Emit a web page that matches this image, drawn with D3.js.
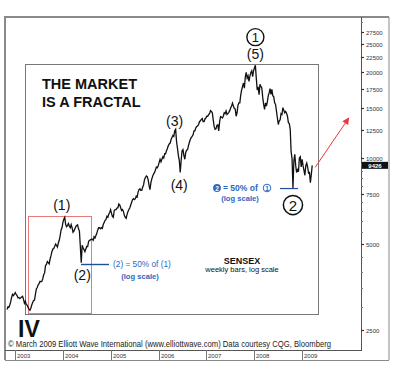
<!DOCTYPE html>
<html><head><meta charset="utf-8">
<script src="https://cdn.jsdelivr.net/npm/d3@7"></script>
<style>body{margin:0;background:#fff}svg{display:block;font-family:"Liberation Sans",Arial,sans-serif}</style>
</head><body><svg id="c" width="400" height="376"></svg>
<script>
// ---- DATA (weekly Sensex) ----
const close2002 = [2950,3010,3000,3060,3135,3250,3330,3300,3340];
const close2003 = [3380,3330,3300,3240,3250, 3220,3240,3260,3280, 3200,3100,3150,3080, 3050,3000,2960,2930,
  2980,3060,3120,3170,3180, 3330,3480,3520,3600, 3630,3700,3690,3700, 3780,3900,3960,4200,4240,
  4340,4300,4260,4430, 4550,4700,4800,4820,4900, 5000,4950,4880,5040, 5150,5350,5600,5700];
const close2004 = [5950,6100,6200,5850,5750, 5800,5900,5780,5700, 5850,5700,5500,5550, 5650,5750,5800,5830,5650,
  5550,4900,4300,4950, 4850,4780,4700,4800, 4900,4900,5100,5150,5170, 5200,5200,5150,5300,
  5250,5350,5450,5600, 5700,5700,5650,5700,5670, 5850,5950,6050,6100, 6250,6200,6350,6450,6600];
const close2005 = [6400,6250,6200,6550, 6600,6600,6680,6700, 6900,6850,6700,6550, 6600,6500,6300,6200,6150,
  6350,6500,6600,6700, 6850,7000,7150,7200, 7150,7200,7350,7300,7600, 7750,7800,7700,7700,
  7900,8050,8400,8550,8650, 8600,8400,8000,7750, 8200,8450,8650,8800, 8900,9100,9300,9250,9400];
const close2006 = [9650,9900,9700,9900, 10100,10000,10350,10350, 10600,10800,11050,11200,11280, 11600,11800,12000,11900,
  12450,12600,11400,10800, 10200,9800,8900,9800,10600, 10700,10200,9900,10450, 10650,10700,11050,11350,
  11600,11800,11900,12050,12450, 12450,12750,12900,12950, 13100,13400,13500,13650, 13750,13400,13400,13700,13800];
const close2007 = [14000,14000,14200,14300, 14650,14550,14400,13600, 12900,12600,12650,13000,13070, 12450,13400,13950,13900,
  13800,14000,14400,14300, 14600,14200,14300,14450,14650, 14950,15200,15550,15200, 14900,14850,14000,14400,15300,
  15600,15600,16600,17300, 17800,18300,17550,19250, 19950,19050,19400,18550,19350, 19900,20200,19250,20200];
const close2008 = [20700,21100,19000,17300, 17750,16650,18100,17800,17600, 16300,15400,14800,15600, 15200,15700,16500,16900,
  17500,16700,17400,16500,16400, 15600,15400,14600,13800, 13100,13500,13600,14300, 14200,15000,14700,14400,14550,
  14350,14000,13300,13200, 12600,10500,9950,7850,9800, 10300,9400,8900,9100, 8950,10000,10100,9300];
const close2009 = [9900,9400,9050,8700,9400, 9600,9300,8850,8900, 8200,8750,9426];
const seriesStarts = ["2002-11-01","2003-01-03","2004-01-02","2005-01-07","2006-01-06","2007-01-05","2008-01-04","2009-01-02"];
const seriesValues = [close2002,close2003,close2004,close2005,close2006,close2007,close2008,close2009];

const yearLabels = ["2003","2004","2005","2006","2007","2008","2009"];
const yLabelTicks = [2500,5000,7500,10000,12500,15000,17500,20000,22500,25000,27500];
const yMinorTicks = [3000,3500,4000,4500,5500,6000,6500,7000,8000,8500,9000,9500,30000];
const lastPrice = "9426";
const waveLabels = [
  {t:"(1)", d:"2004-01-16", v:6200, dx:-3, dy:-7},
  {t:"(2)", d:"2004-05-21", v:4300, dx:1, dy:17},
  {t:"(3)", d:"2006-05-12", v:12600, dx:-1, dy:-3},
  {t:"(4)", d:"2006-06-16", v:8900, dx:-1, dy:17.5},
  {t:"(5)", d:"2008-01-11", v:20800, dx:0, dy:-8}
];

// ---- SETUP ----
const parse = d3.timeParse("%Y-%m-%d");
const data = [];
seriesStarts.forEach((s,k)=>{
  const d0 = parse(s);
  seriesValues[k].forEach((v,i)=>data.push({date:d3.timeDay.offset(d0,7*i), v}));
});
const svg = d3.select("#c");
const x = d3.scaleTime().domain([parse("2003-01-01"), parse("2009-01-01")]).range([15, 302]);
const y = d3.scaleLog().domain([2500, 10000]).range([330, 158]);
const L = 5, T = 17, PR = 361, PB = 350, OR = 389, OB = 360;

svg.append("rect").attr("width",400).attr("height",376).attr("fill","#fff");
// frames
svg.append("line").attr("x1",L).attr("x2",L).attr("y1",T-1).attr("y2",OB).attr("stroke","#8a8a8a").attr("stroke-width",2);
svg.append("line").attr("x1",L).attr("x2",OR).attr("y1",T).attr("y2",T).attr("stroke","#8a8a8a").attr("stroke-width",2);
svg.append("line").attr("x1",OR).attr("x2",OR).attr("y1",T).attr("y2",OB).attr("stroke","#8a8a8a").attr("stroke-width",1);
svg.append("line").attr("x1",L).attr("x2",OR).attr("y1",OB+0.5).attr("y2",OB+0.5).attr("stroke","#8a8a8a").attr("stroke-width",1);
svg.append("line").attr("x1",PR+0.5).attr("x2",PR+0.5).attr("y1",T).attr("y2",PB).attr("stroke","#555").attr("stroke-width",1);
svg.append("line").attr("x1",L).attr("x2",PR+1).attr("y1",PB+0.5).attr("y2",PB+0.5).attr("stroke","#555").attr("stroke-width",1);

// inner box
svg.append("rect").attr("x",25.5).attr("y",64.5).attr("width",293).attr("height",250)
  .attr("fill","#fff").attr("stroke","#777").attr("stroke-width",1);
// red box
svg.append("rect").attr("x",28.5).attr("y",216.5).attr("width",63).attr("height",97)
  .attr("fill","none").attr("stroke","#e87a7a").attr("stroke-width",1);

// x axis (years)
const yrs = yearLabels.map(s=>parse(s+"-01-01"));
yrs.forEach((d,i)=>{
  const xx = Math.round(x(d))+0.5;
  svg.append("line").attr("x1",xx).attr("x2",xx).attr("y1",PB).attr("y2",OB).attr("stroke","#777");
  svg.append("text").attr("x",xx+1.5).attr("y",358).attr("font-size",6).attr("fill","#333").text(yearLabels[i]);
});

// y axis
yMinorTicks.forEach(v=>{
  svg.append("line").attr("x1",PR).attr("x2",PR+2).attr("y1",Math.round(y(v))+0.5).attr("y2",Math.round(y(v))+0.5).attr("stroke","#777");
});
yLabelTicks.forEach(v=>{
  const yy = Math.round(y(v))+0.5;
  svg.append("line").attr("x1",PR).attr("x2",PR+3).attr("y1",yy).attr("y2",yy).attr("stroke","#333").attr("stroke-width",1.2);
  svg.append("text").attr("x",366).attr("y",yy+2).attr("font-size",6).attr("fill","#333").text(v);
});

// price line
svg.append("path").datum(data)
  .attr("d", d3.line().x(d=>x(d.date)).y(d=>y(d.v)))
  .attr("fill","none").attr("stroke","#111").attr("stroke-width",1.3).attr("stroke-linejoin","miter");

// price tag
const last = data[data.length-1];
const ty = y(+lastPrice);
svg.append("rect").attr("x",362).attr("y",ty-3.5).attr("width",26).attr("height",7).attr("fill","#111");
svg.append("text").attr("x",375).attr("y",ty+2.2).attr("text-anchor","middle").attr("font-size",6).attr("font-weight","bold").attr("fill","#fff").text(lastPrice);

// red arrow
const ax0 = x(last.date)+3, ay0 = y(last.v)+2, ax1 = ax0+34, ay1 = ay0-50;
const ang = Math.atan2(ay1-ay0, ax1-ax0);
svg.append("line").attr("x1",ax0).attr("y1",ay0).attr("x2",ax1-4*Math.cos(ang)).attr("y2",ay1-4*Math.sin(ang))
  .attr("stroke","#e8383d").attr("stroke-width",1);
const ah = 7, aw = 3.5;
const p = [[ax1,ay1],
  [ax1-ah*Math.cos(ang)+aw*Math.sin(ang), ay1-ah*Math.sin(ang)-aw*Math.cos(ang)],
  [ax1-ah*Math.cos(ang)-aw*Math.sin(ang), ay1-ah*Math.sin(ang)+aw*Math.cos(ang)]];
svg.append("path").attr("d","M"+p.join("L")+"Z").attr("fill","#e8383d");

// title
svg.append("text").attr("x",42).attr("y",89).attr("font-size",14.5).attr("font-weight","bold").attr("fill","#111").text("THE MARKET");
svg.append("text").attr("x",42).attr("y",107).attr("font-size",14.5).attr("font-weight","bold").attr("fill","#111").text("IS A FRACTAL");

// wave labels
waveLabels.forEach(w=>{
  svg.append("text").attr("x",x(parse(w.d))+w.dx).attr("y",y(w.v)+w.dy)
    .attr("text-anchor","middle").attr("font-size",14).attr("fill","#111").text(w.t);
});
// circled 1 at top
const c1x = x(parse("2008-01-11")), c1y = y(20800)-30;
svg.append("circle").attr("cx",c1x).attr("cy",c1y).attr("r",8.5).attr("fill","none").attr("stroke","#111").attr("stroke-width",1.4);
svg.append("text").attr("x",c1x).attr("y",c1y+4.8).attr("text-anchor","middle").attr("font-size",13).attr("fill","#111").text("1");
// circled 2 at bottom
const c2x = x(parse("2008-10-24")), c2y = y(7850)+17;
svg.append("circle").attr("cx",c2x).attr("cy",c2y).attr("r",9.6).attr("fill","none").attr("stroke","#111").attr("stroke-width",1.5);
svg.append("text").attr("x",c2x).attr("y",c2y+5.5).attr("text-anchor","middle").attr("font-size",15).attr("fill","#111").text("2");
// IV
svg.append("text").attr("x",x(parse("2003-04-25"))-1).attr("y",337).attr("text-anchor","middle")
  .attr("font-size",23).attr("font-weight","bold").attr("fill","#111").text("IV");

// blue annotations
const blue = "#2a68c0", blueLine = "#1f4f9c";
const l1y = 264.5;
svg.append("line").attr("x1",81).attr("x2",109).attr("y1",l1y).attr("y2",l1y).attr("stroke",blueLine).attr("stroke-width",1.4);
svg.append("text").attr("x",113).attr("y",267).attr("font-size",8.3).attr("fill",blue).text("(2) = 50% of (1)");
svg.append("text").attr("x",140).attr("y",279).attr("text-anchor","middle").attr("font-size",7.6).attr("font-weight","bold").attr("fill",blue).text("(log scale)");

const l2y = y(7850)+0.5;
svg.append("line").attr("x1",280).attr("x2",298).attr("y1",l2y).attr("y2",l2y).attr("stroke",blueLine).attr("stroke-width",1.2);
svg.append("circle").attr("cx",217).attr("cy",188).attr("r",3.9).attr("fill",blue);
svg.append("text").attr("x",217).attr("y",190.6).attr("text-anchor","middle").attr("font-size",6.5).attr("font-weight","bold").attr("fill","#fff").text("2");
svg.append("text").attr("x",223).attr("y",191).attr("font-size",8.5).attr("font-weight","bold").attr("fill",blue).text("= 50% of");
svg.append("circle").attr("cx",267).attr("cy",188).attr("r",3.8).attr("fill","none").attr("stroke",blue).attr("stroke-width",1);
svg.append("text").attr("x",267).attr("y",190.5).attr("text-anchor","middle").attr("font-size",6.5).attr("font-weight","bold").attr("fill",blue).text("1");
svg.append("text").attr("x",240).attr("y",201).attr("text-anchor","middle").attr("font-size",7.6).attr("font-weight","bold").attr("fill",blue).text("(log scale)");

// SENSEX
svg.append("text").attr("x",242).attr("y",264).attr("text-anchor","middle").attr("font-size",9).attr("font-weight","bold").attr("fill","#111").text("SENSEX");
svg.append("text").attr("x",242).attr("y",272).attr("text-anchor","middle").attr("font-size",7.5).attr("fill","#111").text("weekly bars, log scale");

// copyright
svg.append("text").attr("x",8).attr("y",347).attr("font-size",8.2).attr("fill","#222")
  .attr("textLength",323).attr("lengthAdjust","spacingAndGlyphs")
  .text("© March 2009 Elliott Wave International (www.elliottwave.com) Data courtesy CQG, Bloomberg");
</script></body></html>
